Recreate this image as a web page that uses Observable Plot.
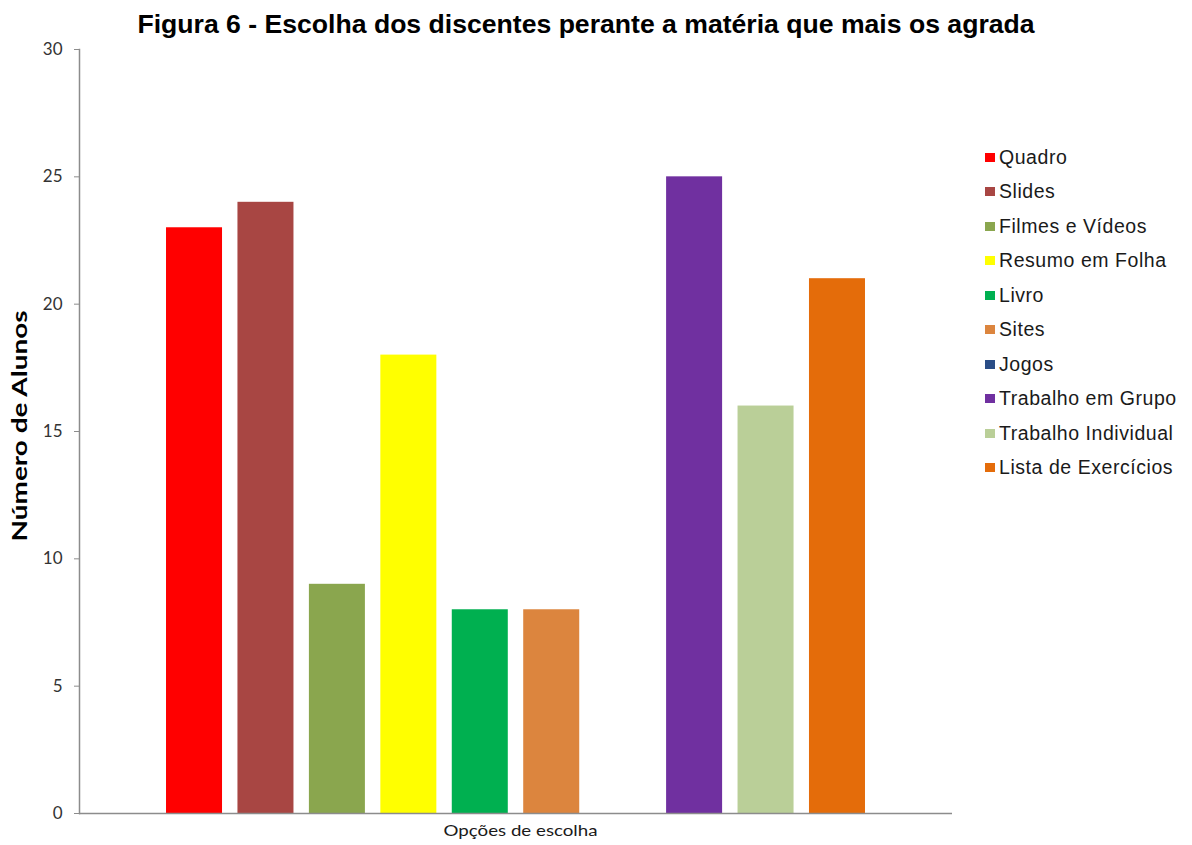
<!DOCTYPE html>
<html>
<head>
<meta charset="utf-8">
<script src="https://cdn.jsdelivr.net/npm/d3@7"></script>
<script src="https://cdn.jsdelivr.net/npm/@observablehq/plot@0.6"></script>
<style>
  body { margin: 0; background: #fff; }
  #fig { position: relative; width: 1192px; height: 845px; background: #fff; }
  #title {
    position: absolute; left: 0; top: 9px; width: 1172px; z-index: 2;
    text-align: center; color: #000; white-space: nowrap;
    font: bold 26.6px "Liberation Sans", Arial, sans-serif;
  }
  #chart { position: absolute; left: 0; top: 0; z-index: 1; }
  #legend { position: absolute; left: 985px; top: 0; z-index: 2; }
  .item {
    position: absolute; left: 0; height: 22px; white-space: nowrap;
    display: flex; align-items: center;
    font: 19.5px "Liberation Sans", Arial, sans-serif; letter-spacing: 0.55px; color: #1a1a1a;
  }
  .sw { width: 10px; height: 9px; margin-right: 4px; flex: none; }
</style>
</head>
<body>
<div id="fig">
  <div id="chart"></div>
  <div id="title"></div>
  <div id="legend"></div>
</div>
<script>
// Preferred teaching resources chosen by the students
const titleText = "Figura 6 - Escolha dos discentes perante a matéria que mais os agrada";
const yLabel = "Número de Alunos";
const xLabel = "Opções de escolha";

const categories = [
  "Quadro", "Slides", "Filmes e Vídeos", "Resumo em Folha", "Livro",
  "Sites", "Jogos", "Trabalho em Grupo", "Trabalho Individual", "Lista de Exercícios"
];
const values = [23, 24, 9, 18, 8, 8, 0, 25, 16, 21];
const colors = [
  "#ff0000", "#a84643", "#8aa64e", "#ffff00", "#00b050",
  "#dc853e", "#2a4d86", "#7030a0", "#bacf98", "#e46c0a"
];
const yTicks = [0, 5, 10, 15, 20, 25, 30];

const data = categories.map((option, i) => ({option, value: values[i]}));

document.getElementById("title").textContent = titleText;

const axisColor = "#8c8c8c";

const chart = Plot.plot({
  width: 1192,
  height: 845,
  marginTop: 49,
  marginBottom: 32,
  marginLeft: 79,
  marginRight: 240,
  style: {fontFamily: "Lato, 'Open Sans', sans-serif", fontSize: "17px", color: "#333", background: "#fff"},
  x: {domain: categories, paddingInner: 0.216, paddingOuter: 1.218, round: false, axis: null},
  y: {domain: [0, 30]},
  color: {domain: categories, range: colors},
  marks: [
    Plot.barY(data, {x: "option", y: "value", fill: "option"}),
    Plot.ruleY([0], {stroke: axisColor, strokeWidth: 1.5}),
    Plot.frame({anchor: "left", stroke: axisColor, strokeWidth: 1.5}),
    Plot.axisY({ticks: yTicks, tickSize: 5, tickPadding: 12, label: null, stroke: axisColor, fill: "#333"}),
    Plot.text([yLabel], {
      frameAnchor: "left", textAnchor: "start", rotate: -90, dx: -59, dy: 110,
      fontWeight: "bold", fontSize: 20, fill: "#000", className: "ylab"
    }),
    Plot.text([xLabel], {
      frameAnchor: "bottom", dx: 4.5, dy: 22, fontSize: 15, fill: "#1a1a1a", className: "xlab"
    })
  ]
});

// Stretch the axis titles to their drawn lengths
d3.select(chart).select(".ylab text").attr("textLength", 231).attr("lengthAdjust", "spacingAndGlyphs");
d3.select(chart).select(".xlab text").attr("textLength", 154).attr("lengthAdjust", "spacingAndGlyphs");

document.getElementById("chart").appendChild(chart);

// Vertical legend of swatches
const legend = d3.select("#legend");
categories.forEach((c, i) => {
  const item = legend.append("div").attr("class", "item").style("top", (146 + 34.55 * i) + "px");
  item.append("div").attr("class", "sw").style("background", colors[i]);
  item.append("span").text(c);
});
</script>
</body>
</html>
